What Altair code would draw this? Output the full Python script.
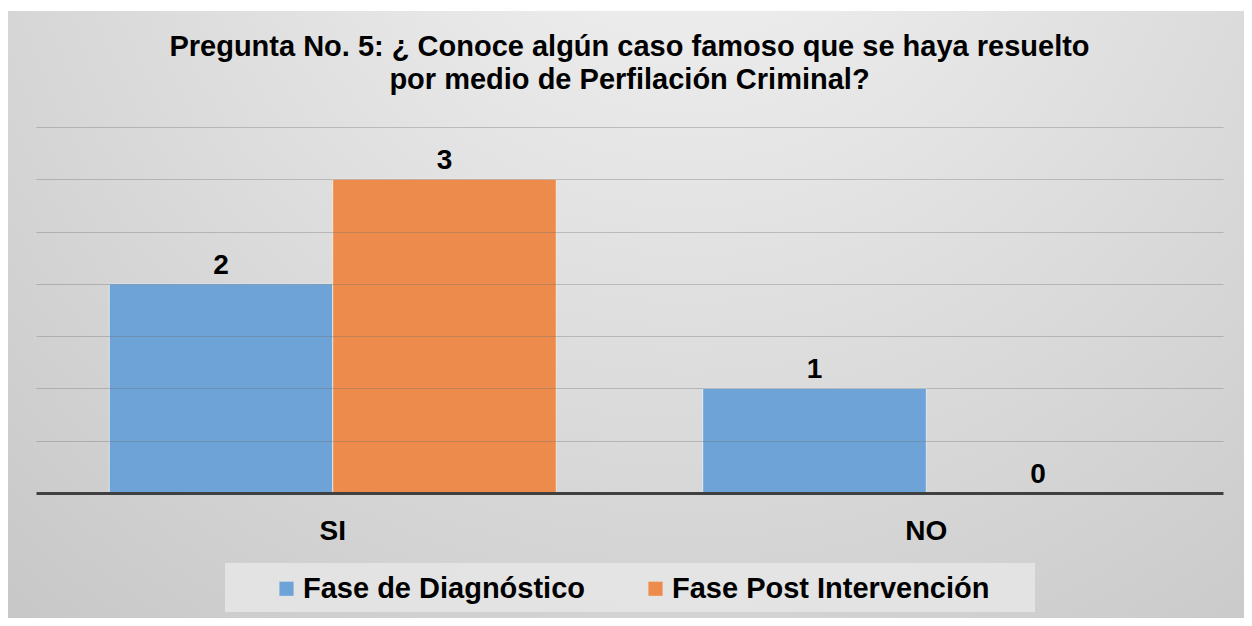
import altair as alt
import pandas as pd

categories = ["SI", "NO"]
series = ["Fase de Diagnóstico", "Fase Post Intervención"]
diagnostico = [2, 1]
post_intervencion = [3, 0]
colors = ["#6da3d6", "#ec8b4b"]
title_lines = ["Pregunta No. 5: ¿ Conoce algún caso famoso que se haya resuelto",
               "por medio de Perfilación Criminal?"]

rows = []
for i, c in enumerate(categories):
    rows.append({"cat": c, "serie": series[0], "valor": diagnostico[i]})
    rows.append({"cat": c, "serie": series[1], "valor": post_intervencion[i]})
df = pd.DataFrame(rows)

FONT = "Liberation Sans"
W, H = 1187, 366
PAD = {"left": 28, "top": 119, "right": 21, "bottom": 125}

bg = alt.Chart(pd.DataFrame({"k": [0]})).mark_rect(
    color=alt.RadialGradient(
        gradient="radial", x1=0.55, y1=0.1, x2=0.55, y2=0.1, r1=0, r2=0.95,
        stops=[alt.GradientStop(offset=0, color="#f4f4f4"),
               alt.GradientStop(offset=1, color="#c2c2c2")]),
    clip=False,
).encode(
    x=alt.value(-PAD["left"]), x2=alt.value(W + PAD["right"]),
    y=alt.value(-PAD["top"] + 3), y2=alt.value(H + PAD["bottom"]),
)

legend_box = alt.Chart(pd.DataFrame({"k": [0]})).mark_rect(
    color="#e6e6e6", opacity=0.85, clip=False
).encode(
    x=alt.value(189), x2=alt.value(999), y=alt.value(436), y2=alt.value(485)
)

base = alt.Chart(df).encode(
    x=alt.X("cat:N", sort=categories,
            scale=alt.Scale(paddingInner=0, paddingOuter=0),
            axis=alt.Axis(title=None, labelAngle=0, ticks=False, domain=True,
                          domainColor="#404040", domainWidth=3,
                          labelFontSize=28, labelFontWeight="bold",
                          labelColor="#000000", labelFont=FONT,
                          labelPadding=24, zindex=1, grid=False)),
    xOffset=alt.XOffset("serie:N", sort=series,
                        scale=alt.Scale(paddingOuter=0.328, paddingInner=0)),
)

bars = base.mark_bar(stroke="#ffffff", strokeWidth=1, strokeOpacity=0.6).encode(
    y=alt.Y("valor:Q", scale=alt.Scale(domain=[0, 3.5]),
            axis=alt.Axis(title=None, labels=False, ticks=False, domain=False,
                          values=[0.5, 1, 1.5, 2, 2.5, 3, 3.5],
                          gridColor="#6f6f6f", gridOpacity=0.35, gridWidth=1.2,
                          zindex=1)),
    color=alt.Color("serie:N", sort=series,
                    scale=alt.Scale(domain=series, range=colors),
                    legend=alt.Legend(title=None, orient="none", direction="horizontal",
                                      legendX=236, legendY=447,
                                      symbolType="square", symbolSize=200,
                                      symbolStrokeWidth=0, symbolOpacity=1,
                                      labelFontSize=29, labelFontWeight="bold",
                                      labelFont=FONT, labelColor="#000000",
                                      labelLimit=0, labelOffset=2,
                                      columnPadding=55)),
)

labels = base.mark_text(
    fontSize=28, fontWeight="bold", font=FONT, color="#000000",
    baseline="bottom", dy=-4,
).encode(
    y=alt.Y("valor:Q"),
    text=alt.Text("valor:Q"),
)

chart = alt.layer(bg, legend_box, bars, labels).properties(
    width=W, height=H,
    padding=PAD,
    autosize=alt.AutoSizeParams(type="none"),
    title=alt.Title(title_lines, fontSize=29, fontWeight="bold", font=FONT,
                    color="#000000", anchor="middle", frame="group",
                    offset=30, dy=114, lineHeight=33),
).configure_view(strokeWidth=0).configure(background="#ffffff")

chart.save("out.html", embed_options={"renderer": "svg", "actions": False})
